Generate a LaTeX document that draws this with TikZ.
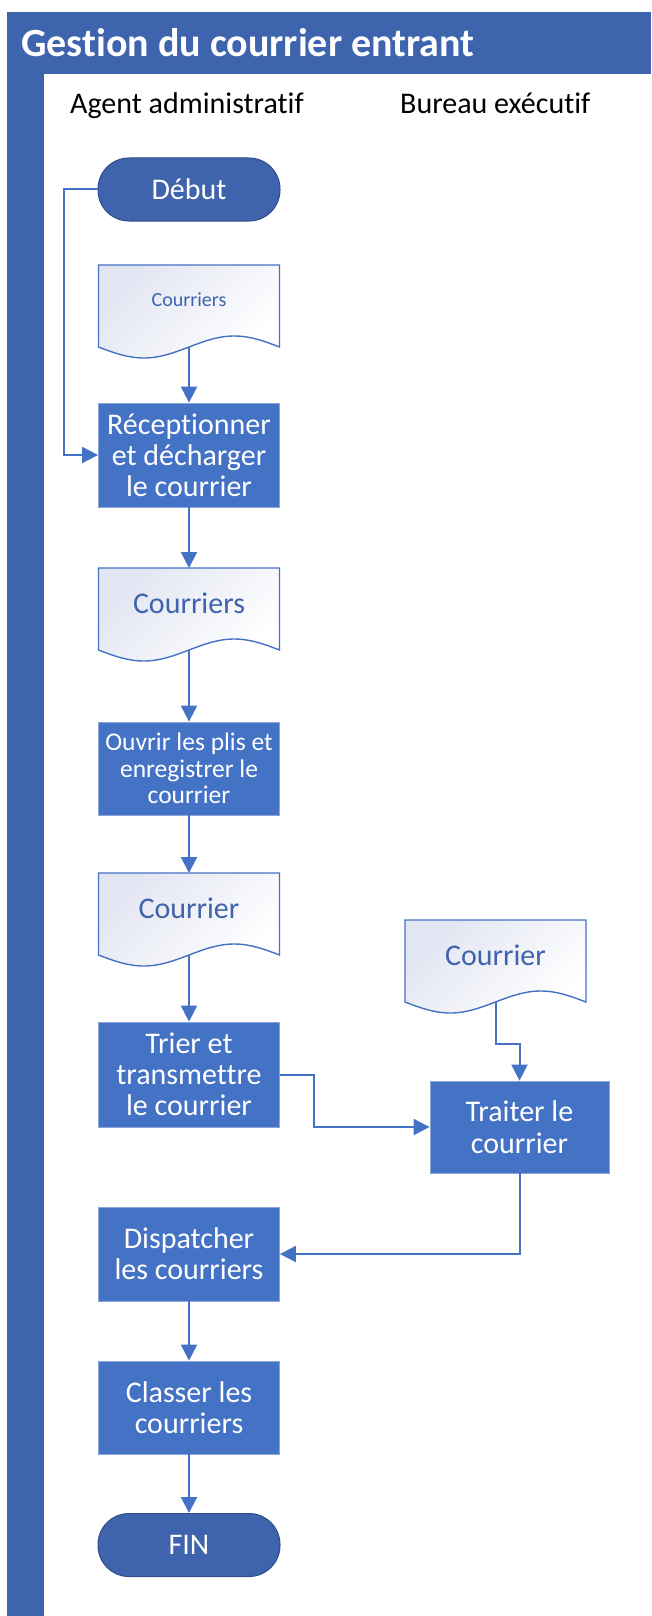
\documentclass[tikz,border=0pt]{standalone}
\usepackage{fontspec}
\setmainfont{Carlito}[Ligatures={NoCommon}]
\usetikzlibrary{arrows.meta}

\definecolor{band}{HTML}{3E64AE}
\definecolor{boxblue}{HTML}{4472C4}
\definecolor{boxedge}{HTML}{8AA6DA}
\definecolor{termfill}{HTML}{3F63AC}
\definecolor{termedge}{HTML}{2F4E8C}
\definecolor{docedge}{HTML}{4472C4}
\definecolor{doctext}{HTML}{3F63AC}
\definecolor{docshade}{HTML}{E2E5F2}

\tikzset{
  every picture/.style={x=1pt,y=-1pt},
  stepbox/.style={rectangle, fill=boxblue, draw=boxedge, line width=0.8pt,
    text=white, align=center, inner sep=0pt, minimum width=181pt},
  termbox/.style={rectangle, rounded corners=31pt, fill=termfill, draw=termedge,
    line width=1pt, text=white, inner sep=0pt, minimum width=182pt,
    minimum height=63pt, font=\fontsize{30}{31}\selectfont},
  doclabel/.style={rectangle, anchor=north, inner sep=0pt, minimum width=181pt,
    text=doctext},
  docline/.style={draw=docedge, line width=1.4pt, top color=docshade,
    bottom color=white, shading angle=45},
  flow/.style={draw=boxblue, line width=2pt, -{Triangle[length=16pt,width=16pt]}},
}

% document symbol: name, centre x, top y, text, font size, baseline offset
\newcommand\docsymbol[6]{%
  \path[docline] (#2-90.5,#3) -- ++(181,0) -- ++(0,82)
    sin ++(-45.25,-11) cos ++(-45.25,11) sin ++(-45.25,11) cos ++(-45.25,-11) -- cycle;
  \node[doclabel, text height=#6pt, text depth=82pt-#6pt,
    font=\fontsize{#5}{#5}\selectfont] (#1) at (#2,#3) {#4};
}

\begin{document}
\begin{tikzpicture}
\useasboundingbox (0,0) rectangle (651,1616);
\fill[white] (0,0) rectangle (651,1616);

% pool header and lane bar
\fill[band] (7,12) rectangle (651,74);
\fill[band] (7,74) rectangle (44,1616);
\node[anchor=base west, inner sep=0pt, text=white,
  font=\bfseries\fontsize{40}{40}\selectfont] (title) at (21,57) {Gestion du courrier entrant};

% lane titles
\node[anchor=base west, inner sep=0pt, font=\fontsize{30}{30}\selectfont] (laneA) at (70,114) {Agent administratif};
\node[anchor=base west, inner sep=0pt, font=\fontsize{30}{30}\selectfont] (laneB) at (400,114) {Bureau exécutif};

% flow steps
\node[termbox] (debut) at (189,189.5) {Début};
\docsymbol{doc1}{189}{265}{Courriers}{20}{41}
\node[stepbox, minimum height=104pt, font=\fontsize{30}{31}\selectfont] (recep) at (189,455)
  {Réceptionner\\et décharger\\le courrier};
\docsymbol{doc2}{189}{568}{Courriers}{30}{45}
\node[stepbox, minimum height=93pt, font=\fontsize{25.5}{26.5}\selectfont] (ouvrir) at (189,768.5)
  {Ouvrir les plis et\\enregistrer le\\courrier};
\docsymbol{doc3}{189}{873}{Courrier}{30}{45}
\node[stepbox, minimum height=105pt, font=\fontsize{30}{31}\selectfont] (trier) at (189,1074.5)
  {Trier et\\transmettre\\le courrier};
\docsymbol{doc4}{495.5}{920}{Courrier}{30}{45}
\node[stepbox, minimum width=179pt, minimum height=92pt, font=\fontsize{30}{32}\selectfont] (traiter) at (519.5,1127)
  {Traiter le\\courrier};
\node[stepbox, minimum height=94pt, font=\fontsize{30}{31}\selectfont] (dispatch) at (189,1254)
  {Dispatcher\\les courriers};
\node[stepbox, minimum height=93pt, font=\fontsize{30}{31}\selectfont] (classer) at (189,1407.5)
  {Classer les\\courriers};
\node[termbox] (fin) at (189,1545) {FIN};

% connectors
\draw[flow] (debut.west) -- ++(-34,0) |- (recep.west);
\draw[flow] (doc1.south) -- (recep.north);
\draw[flow] (recep.south) -- (doc2.north);
\draw[flow] (doc2.south) -- (ouvrir.north);
\draw[flow] (ouvrir.south) -- (doc3.north);
\draw[flow] (doc3.south) -- (trier.north);
\draw[flow] (trier.east) -- ++(34,0) |- (traiter.west);
\draw[flow] (doc4.south) -- ++(0,42) -| (traiter.north);
\draw[flow] (traiter.south) |- (dispatch.east);
\draw[flow] (dispatch.south) -- (classer.north);
\draw[flow] (classer.south) -- (fin.north);
\end{tikzpicture}
\end{document}
